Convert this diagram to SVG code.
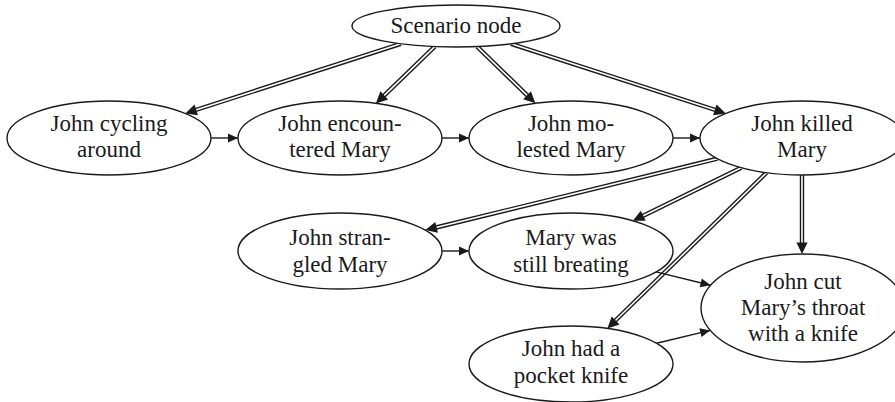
<svg xmlns="http://www.w3.org/2000/svg" width="895" height="402" viewBox="0 0 895 402">
<style>
.n ellipse{fill:#fff;stroke:#1a1a1a;stroke-width:1.4}
.n text{font-size:23px;fill:#1a1a1a;text-anchor:middle}
.s{fill:none;stroke:#1a1a1a;stroke-width:1.4;marker-end:url(#sh)}
.dbo{fill:none;stroke:#1a1a1a;stroke-width:4.4}
.dbi{fill:none;stroke:#fff;stroke-width:1.6;marker-end:url(#dh)}
</style>
<defs>
<marker id="sh" markerUnits="userSpaceOnUse" markerWidth="12" markerHeight="12" refX="10" refY="5" orient="auto" overflow="visible">
<path d="M0,0.5 L10,5 L0,9.5 z" fill="#1a1a1a"/>
</marker>
<marker id="dh" markerUnits="userSpaceOnUse" markerWidth="14" markerHeight="14" refX="0" refY="0" orient="auto" overflow="visible">
<path d="M11,0 L-0.6,-5.6 L-0.6,5.6 z" fill="#1a1a1a"/>
</marker>
</defs>
<rect width="895" height="402" fill="#fff"/>
<g id="connectors">
<path class="dbo" d="M400.8,43.8 L195.7,110.0"/><path class="dbi" d="M400.8,43.8 L195.7,110.0"/>
<path class="dbo" d="M434.7,46.6 L383.8,95.8"/><path class="dbi" d="M434.7,46.6 L383.8,95.8"/>
<path class="dbo" d="M477.1,46.6 L527.5,95.6"/><path class="dbi" d="M477.1,46.6 L527.5,95.6"/>
<path class="dbo" d="M511.0,43.8 L715.4,110.0"/><path class="dbi" d="M511.0,43.8 L715.4,110.0"/>
<path class="dbo" d="M717.4,158.7 L436.0,227.5"/><path class="dbi" d="M717.4,158.7 L436.0,227.5"/>
<path class="dbo" d="M741.2,167.7 L642.7,216.0"/><path class="dbi" d="M741.2,167.7 L642.7,216.0"/>
<path class="dbo" d="M766.5,172.7 L615.2,320.8"/><path class="dbi" d="M766.5,172.7 L615.2,320.8"/>
<path class="dbo" d="M802,175 L802,243"/><path class="dbi" d="M802,175 L802,243"/>
<path class="s" d="M211,138 L238,138"/>
<path class="s" d="M442,138 L469,138"/>
<path class="s" d="M673,138 L700,138"/>
<path class="s" d="M442,251 L469,251"/>
<path class="s" d="M656.1,271.9 L710.5,285.3"/>
<path class="s" d="M656.6,343.3 L710.2,330.4"/>
</g>
<g font-family="Liberation Serif, DejaVu Serif, serif">
<g id="scenario" class="n"><ellipse cx="456" cy="26" rx="104" ry="21"/><text x="456" y="33">Scenario node</text></g>
<g id="cycling" class="n"><ellipse cx="109" cy="138" rx="102" ry="37"/><text x="109" y="131">John cycling</text><text x="109" y="157">around</text></g>
<g id="encountered" class="n"><ellipse cx="340" cy="138" rx="102" ry="37"/><text x="340" y="131">John encoun-</text><text x="340" y="157">tered Mary</text></g>
<g id="molested" class="n"><ellipse cx="571" cy="138" rx="102" ry="37"/><text x="571" y="131">John mo-</text><text x="571" y="157">lested Mary</text></g>
<g id="killed" class="n"><ellipse cx="802" cy="138" rx="102" ry="37"/><text x="802" y="131">John killed</text><text x="802" y="157">Mary</text></g>
<g id="strangled" class="n"><ellipse cx="340" cy="251" rx="102" ry="38"/><text x="340" y="245">John stran-</text><text x="340" y="272">gled Mary</text></g>
<g id="breathing" class="n"><ellipse cx="571" cy="251" rx="102" ry="38"/><text x="571" y="245">Mary was</text><text x="571" y="272">still breating</text></g>
<g id="cut" class="n"><ellipse cx="803" cy="308" rx="102" ry="54"/><text x="803" y="289">John cut</text><text x="803" y="315">Mary’s throat</text><text x="803" y="341">with a knife</text></g>
<g id="pocket" class="n"><ellipse cx="571" cy="364" rx="102" ry="38"/><text x="571" y="356">John had a</text><text x="571" y="383">pocket knife</text></g>
</g>
</svg>
